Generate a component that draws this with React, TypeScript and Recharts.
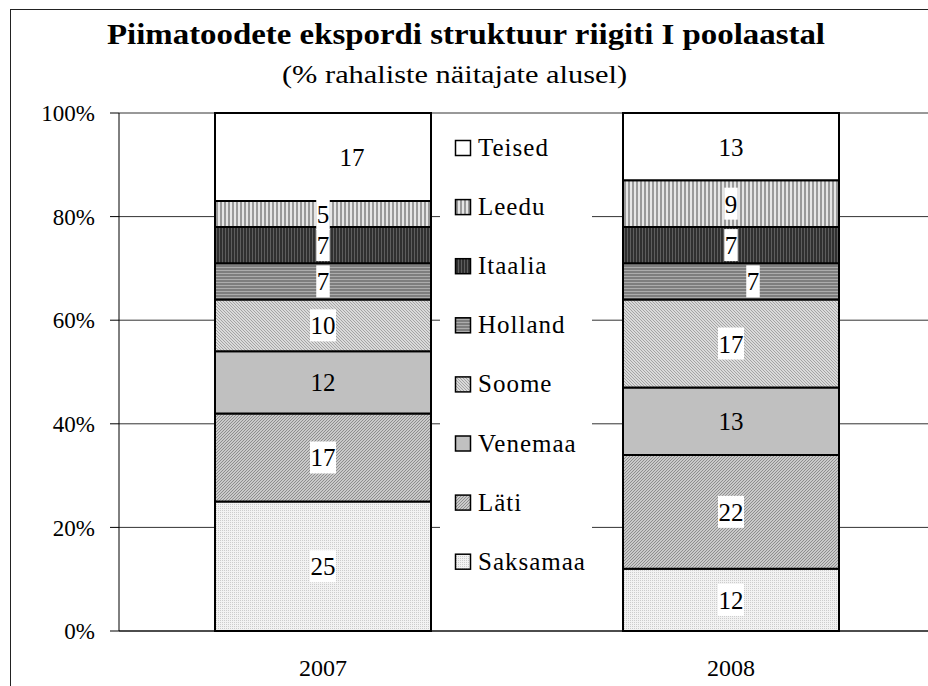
import { BarChart, Bar, XAxis, YAxis, CartesianGrid, Legend, LabelList } from "recharts";

const years = ["2007", "2008"];
const saksamaa = [25, 12];
const lati = [17, 22];
const venemaa = [12, 13];
const soome = [10, 17];
const holland = [7, 7];
const itaalia = [7, 7];
const leedu = [5, 9];
const teised = [17, 13];
const yTicks = [0, 20, 40, 60, 80, 100];

const title = "Piimatoodete ekspordi struktuur riigiti I poolaastal";
const subtitle = "(% rahaliste näitajate alusel)";

const FONT = "Liberation Serif, Tinos, Times New Roman, DejaVu Serif, serif";

// bottom to top, same order as the stack
const SERIES = [
  { key: "saksamaa", name: "Saksamaa", values: saksamaa, fill: "url(#p-saksamaa)", boxed: true },
  { key: "lati", name: "Läti", values: lati, fill: "url(#p-lati)", boxed: true },
  { key: "venemaa", name: "Venemaa", values: venemaa, fill: "#c0c0c0", boxed: false },
  { key: "soome", name: "Soome", values: soome, fill: "url(#p-soome)", boxed: true },
  { key: "holland", name: "Holland", values: holland, fill: "url(#p-holland)", boxed: true },
  { key: "itaalia", name: "Itaalia", values: itaalia, fill: "url(#p-itaalia)", boxed: true },
  { key: "leedu", name: "Leedu", values: leedu, fill: "url(#p-leedu)", boxed: true },
  { key: "teised", name: "Teised", values: teised, fill: "#ffffff", boxed: false },
];

const data = years.map((year, i) => {
  const row: Record<string, string | number> = { year };
  SERIES.forEach((s) => (row[s.key] = s.values[i]));
  return row;
});

// a couple of labels sit off-centre in the original
const labelShift: Record<string, number> = { "teised-0": 29, "holland-1": 22 };

function Patterns() {
  return (
    <defs>
      <pattern id="p-saksamaa" width="2" height="2" patternUnits="userSpaceOnUse">
        <rect width="2" height="2" fill="#f2f2f2" />
        <rect width="1" height="1" fill="#cccccc" />
      </pattern>
      <pattern id="p-lati" width="3" height="3" patternUnits="userSpaceOnUse">
        <rect width="3" height="3" fill="#cacaca" />
        <path d="M-1,1 L1,-1 M0,3 L3,0 M2,4 L4,2" stroke="#8e8e8e" strokeWidth="1" />
      </pattern>
      <pattern id="p-soome" width="3" height="3" patternUnits="userSpaceOnUse">
        <rect width="3" height="3" fill="#dadada" />
        <path d="M-1,-1 L4,4 M-1,2 L1,4 M2,-1 L4,1" stroke="#a4a4a4" strokeWidth="1" />
      </pattern>
      <pattern id="p-holland" width="3" height="3" patternUnits="userSpaceOnUse">
        <rect width="3" height="3" fill="#7e7e7e" />
        <rect width="3" height="1" fill="#acacac" />
      </pattern>
      <pattern id="p-itaalia" width="3" height="3" patternUnits="userSpaceOnUse">
        <rect width="3" height="3" fill="#303030" />
        <rect width="1" height="3" fill="#5e5e5e" />
      </pattern>
      <pattern id="p-leedu" width="4" height="4" patternUnits="userSpaceOnUse">
        <rect width="4" height="4" fill="#e6e6e6" />
        <rect width="2" height="4" fill="#9a9a9a" />
      </pattern>
    </defs>
  );
}

function SegmentLabel(props: any) {
  const { value, index, seriesKey, boxed } = props;
  const vb = props.viewBox ?? props;
  const x = Number(vb.x ?? props.x);
  const y = Number(vb.y ?? props.y);
  const width = Number(vb.width ?? props.width);
  const height = Number(vb.height ?? props.height);
  const cx = x + width / 2 + (labelShift[`${seriesKey}-${index}`] ?? 0);
  const cy = y + height / 2;
  const w = String(value).length * 12.5 + 1;
  return (
    <g>
      {boxed && <rect x={cx - w / 2} y={cy - 16} width={w} height={32} fill="#fff" />}
      <text x={cx} y={cy + 9} textAnchor="middle" fontSize={25} style={{ fontFamily: FONT }} fill="#000">
        {value}
      </text>
    </g>
  );
}

function LegendBox() {
  const items = [...SERIES].reverse();
  return (
    <svg width={152} height={474} style={{ display: "block" }}>
      {items.map((s, i) => {
        const cy = 30 + i * 59.1;
        return (
          <g key={s.key}>
            <rect x={15.5} y={cy - 7.5} width={15} height={15} fill={s.fill} stroke="#000" strokeWidth={1.5} />
            <text x={38} y={cy + 8} fontSize={25} letterSpacing={1} style={{ fontFamily: FONT }} fill="#000">
              {s.name}
            </text>
          </g>
        );
      })}
    </svg>
  );
}

export default function App() {
  return (
    <div style={{ position: "fixed", left: 0, top: 0, width: 928, height: 686, overflow: "hidden", background: "#fff", fontFamily: FONT }}>
      <div style={{ position: "absolute", left: 10, top: 9, width: 1000, height: 1000, border: "1.5px solid #222" }} />
      <div style={{ position: "absolute", left: 0, top: 0 }}>
        <BarChart width={940} height={686} data={data} margin={{ top: 113, right: 5, left: 0, bottom: 25 }} style={{ fontFamily: FONT }}>
          <Patterns />
          <text x={107} y={44} textLength={718} lengthAdjust="spacingAndGlyphs" fontSize={29} fontWeight="bold" style={{ fontFamily: FONT }} fill="#000">
            {title}
          </text>
          <text x={282} y={83} textLength={345} lengthAdjust="spacingAndGlyphs" fontSize={25} style={{ fontFamily: FONT }} fill="#000">
            {subtitle}
          </text>
          <CartesianGrid vertical={false} stroke="#333" />
          <XAxis
            dataKey="year"
            height={30}
            tickLine={false}
            tickSize={0}
            tickMargin={28}
            axisLine={{ stroke: "#000" }}
            tick={{ fontSize: 24, fill: "#000", style: { fontFamily: FONT } }}
          />
          <YAxis
            width={119}
            domain={[0, 100]}
            ticks={yTicks}
            tickFormatter={(v) => `${v}%`}
            tickSize={9}
            tickMargin={15}
            axisLine={{ stroke: "#000" }}
            tickLine={{ stroke: "#000" }}
            tick={{ fontSize: 23, fill: "#000", style: { fontFamily: FONT } }}
          />
          <Legend
            layout="vertical"
            align="center"
            verticalAlign="middle"
            content={() => <LegendBox />}
            wrapperStyle={{ left: 440, top: 118, width: 152, height: 474, background: "#fff" }}
          />
          {SERIES.map((s) => (
            <Bar
              key={s.key}
              dataKey={s.key}
              name={s.name}
              stackId="a"
              fill={s.fill}
              stroke="#000"
              strokeWidth={2}
              barSize={216}
              isAnimationActive={false}
            >
              <LabelList dataKey={s.key} content={(p: any) => <SegmentLabel {...p} seriesKey={s.key} boxed={s.boxed} />} />
            </Bar>
          ))}
        </BarChart>
      </div>
    </div>
  );
}
